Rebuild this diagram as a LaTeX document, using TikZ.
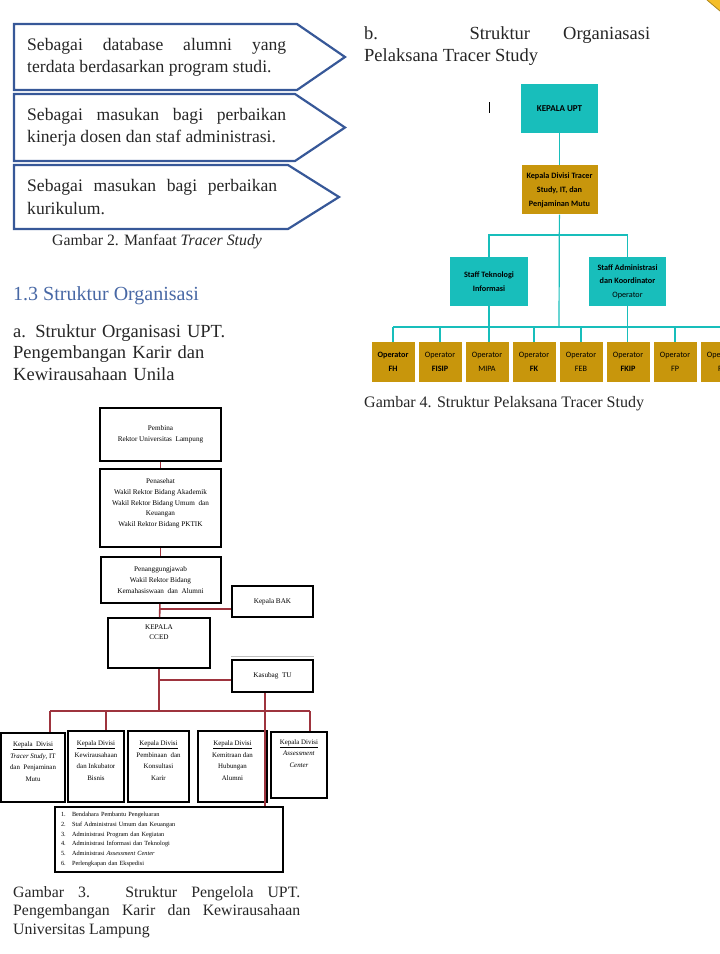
\documentclass[tikz,border=0pt]{standalone}
\usepackage{fontspec}
\setmainfont{Liberation Serif}
\newfontfamily\chartfont{Carlito}
\usepackage{xcolor}
\usepackage{tikz}
\definecolor{arrowblue}{RGB}{55, 88, 152}
\definecolor{headblue}{RGB}{72, 104, 165}
\definecolor{uptteal}{RGB}{24, 190, 187}
\definecolor{opgold}{RGB}{200, 150, 12}
\definecolor{linkred}{RGB}{158, 52, 62}
\definecolor{cornergold}{RGB}{245, 190, 40}
\usetikzlibrary{positioning, calc}
\hyphenpenalty=10000
\exhyphenpenalty=10000

\begin{document}
\begin{tikzpicture}[
    x=1pt, y=-1pt,
    benefit/.style={anchor=west, inner sep=0pt, align=justify, text=black!85,
                    font=\fontsize{17.6}{22.3}\selectfont},
    benefitshape/.style={draw=arrowblue, line width=2.2pt, line join=miter},
    heading/.style={anchor=base west, inner sep=0pt, align=left, text=black!85},
    caption/.style={anchor=base west, inner sep=0pt, text=black!85,
                    font=\fontsize{15.8}{18.5}\selectfont},
    pkbox/.style={rectangle, draw, line width=2pt, fill=white, inner sep=0pt,
                  align=center, font=\fontsize{7.2}{10.8}\selectfont},
    divbox/.style={pkbox, font=\fontsize{6.9}{11.6}\selectfont},
    pklink/.style={draw=linkred, line width=1.6pt},
    upt/.style={rectangle, fill=uptteal, inner sep=0pt, align=center,
                font=\chartfont\bfseries\fontsize{8.2}{13.5}\selectfont},
    kadivbox/.style={upt, fill=opgold, font=\chartfont\bfseries\fontsize{8.2}{14}\selectfont},
    opbox/.style={rectangle, fill=opgold, minimum width=43pt, minimum height=40pt,
                  inner sep=0pt, align=center,
                  font=\chartfont\fontsize{8.2}{14}\selectfont},
    uptlink/.style={draw=uptteal, line width=1.2pt}
]
    \useasboundingbox (0,0) rectangle (720,954);
    \clip (0,0) rectangle (720,954);

    % Manfaat tracer study
    \node[benefit, text width=259pt] (manfaat1) at (27,57)
        {Sebagai database alumni yang terdata berdasarkan program studi.};
    \draw[benefitshape] (14,24) -- (297,24) -- (345,57) -- (297,90) -- (14,90) -- cycle;
    \node[benefit, text width=259pt] (manfaat2) at (27,127.5)
        {Sebagai masukan bagi perbaikan kinerja dosen dan staf administrasi.};
    \draw[benefitshape] (14,94) -- (295,94) -- (345,127.5) -- (295,161) -- (14,161) -- cycle;
    \node[benefit, text width=250pt] (manfaat3) at (27,197)
        {Sebagai masukan bagi perbaikan kurikulum.};
    \draw[benefitshape] (14,165) -- (288,165) -- (339,197) -- (288,229) -- (14,229) -- cycle;
    \node[caption] (gambar2) at (52,245) {Gambar 2. Manfaat \textit{Tracer Study}};

    % Headings
    \node[heading, text=headblue, font=\fontsize{20}{24}\selectfont] (subbab) at (13,300)
        {1.3 Struktur Organisasi};
    \node[heading, text width=230pt, font=\fontsize{18.5}{21.5}\selectfont] (judula) at (13,337)
        {a. Struktur Organisasi UPT.\\Pengembangan Karir dan\\Kewirausahaan Unila};
    \node[heading, text width=286pt, align=justify, font=\fontsize{18.5}{22}\selectfont] (judulb) at (364,39)
        {b. Struktur Organiasasi\linebreak Pelaksana Tracer Study};

    % Struktur pengelola UPT
    \node[pkbox, minimum width=121pt, minimum height=53pt] (pembina) at (160.5,434.5)
        {Pembina\\Rektor Universitas\ \ Lampung};
    \node[pkbox, minimum width=121pt, minimum height=78pt, below=6pt of pembina] (penasehat)
        {Penasehat\\Wakil Rektor Bidang Akademik\\Wakil Rektor Bidang Umum\ \ dan\\Keuangan\\Wakil Rektor Bidang PKTIK\\\mbox{}};
    \node[pkbox, minimum width=120pt, minimum height=46pt, below=8pt of penasehat] (penanggung)
        {Penanggungjawab\\Wakil Rektor Bidang\\Kemahasiswaan\ \ dan\ \ Alumni};
    \node[pkbox, minimum width=81pt, minimum height=31pt] (kabak) at (272.5,601.5) {Kepala BAK};
    \node[pkbox, minimum width=102pt, minimum height=50pt] (kepalacced) at (159,643)
        {KEPALA\\CCED\\\mbox{}\\\mbox{}};
    \node[pkbox, minimum width=81pt, minimum height=32pt] (kasubag) at (272.5,676) {Kasubag\ \ TU};
    \draw[black!25, line width=1pt] ([yshift=3pt]kasubag.north west) -- ([yshift=3pt]kasubag.north east);

    \node[divbox, minimum width=64pt, minimum height=69pt] (divtracer) at (33,767.5)
        {\underline{Kepala\ \ Divisi}\\\textit{Tracer Study}, IT\\dan\ \ Penjaminan\\Mutu\\\mbox{}};
    \node[divbox, minimum width=56pt, minimum height=71pt] (divwirausaha) at (96,766.5)
        {\underline{Kepala Divisi}\\Kewirausahaan\\dan Inkubator\\Bisnis\\\mbox{}};
    \node[divbox, minimum width=61pt, minimum height=71pt] (divkarir) at (158.5,766.5)
        {\underline{Kepala Divisi}\\Pembinaan\ \ dan\\Konsultasi\\Karir\\\mbox{}};
    \node[divbox, minimum width=69pt, minimum height=71pt] (divmitra) at (232.5,766.5)
        {\underline{Kepala Divisi}\\Kemitraan dan\\Hubungan\\Alumni\\\mbox{}};
    \node[divbox, minimum width=56pt, minimum height=66pt] (divassess) at (299,765)
        {\underline{Kepala Divisi}\\\textit{Assessment}\\\textit{Center}\\\mbox{}\\\mbox{}};
    \node[pkbox, minimum width=228pt, minimum height=65pt, text width=216pt, align=left,
          font=\fontsize{6.3}{9.7}\selectfont] (tugas) at (169,839.5)
        {\makebox[11pt][l]{1.}Bendahara Pembantu Pengeluaran\\
         \makebox[11pt][l]{2.}Staf Administrasi Umum dan Keuangan\\
         \makebox[11pt][l]{3.}Administrasi Program dan Kegiatan\\
         \makebox[11pt][l]{4.}Administrasi Informasi dan Teknologi\\
         \makebox[11pt][l]{5.}Administrasi \textit{Assessment Center}\\
         \makebox[11pt][l]{6.}Perlengkapan dan Ekspedisi};

    \coordinate (bakjoin) at (159,609);
    \coordinate (tujoin) at (159,680);
    \coordinate (divbus) at (159,711);
    \coordinate (bustracer) at (50,711);
    \coordinate (buswirausaha) at (106,711);
    \coordinate (busassess) at (310,711);
    \coordinate (tudrop) at (265,676);
    \draw[pklink] (pembina) -- (penasehat);
    \draw[pklink] (penasehat) -- (penanggung);
    \draw[pklink] (penanggung) -- (kepalacced);
    \draw[pklink] (bakjoin) -- (bakjoin -| kabak.west);
    \draw[pklink] (kepalacced) -- (divbus);
    \draw[pklink] (tujoin) -- (tujoin -| kasubag.west);
    \draw[pklink] (bustracer) -- (busassess);
    \draw[pklink] (bustracer) -- (bustracer |- divtracer.north);
    \draw[pklink] (buswirausaha) -- (buswirausaha |- divwirausaha.north);
    \draw[pklink] (busassess) -- (busassess |- divassess.north);
    \draw[pklink] (tudrop |- kasubag.south) -- (tudrop |- tugas.north);

    \node[caption, text width=287pt, align=justify] (gambar3) at (13,897)
        {Gambar 3. Struktur Pengelola UPT.\linebreak Pengembangan Karir dan Kewirausahaan\linebreak Universitas Lampung};

    % Struktur pelaksana tracer study
    \draw[line width=0.7pt] (489,102) -- (489,113);
    \node[upt, minimum width=77pt, minimum height=49pt,
          font=\chartfont\bfseries\fontsize{9}{10}\selectfont] (kepalaupt) at (559.5,108.5) {KEPALA UPT};
    \node[kadivbox, minimum width=76pt, minimum height=49pt, below=32pt of kepalaupt] (kadiv)
        {Kepala Divisi Tracer\\Study, IT, dan\\Penjaminan Mutu};
    \node[upt, minimum width=78pt, minimum height=49pt] (stafti) at (489,281.5)
        {Staff Teknologi\\Informasi};
    \node[upt, minimum width=77pt, minimum height=49pt] (stafadm) at (627.5,281.5)
        {Staff Administrasi\\dan Koordinator\\\mdseries Operator};

    \node[opbox, font=\chartfont\bfseries\fontsize{8.2}{14}\selectfont] (op1) at (393,362) {Operator\\FH};
    \node[opbox, right=3.6pt of op1] (op2) {Operator\\\textbf{FISIP}};
    \node[opbox, right=3.6pt of op2] (op3) {Operator\\MIPA};
    \node[opbox, right=3.6pt of op3] (op4) {Operator\\\textbf{FK}};
    \node[opbox, right=3.6pt of op4] (op5) {Operator\\FEB};
    \node[opbox, right=3.6pt of op5] (op6) {Operator\\\textbf{FKIP}};
    \node[opbox, right=3.6pt of op6] (op7) {Operator\\FP};
    \node[opbox, right=3.6pt of op7] (op8) {Operator\\FT};

    \coordinate (staffbus) at (559,235);
    \coordinate (opbus) at (559,327);
    \draw[uptlink] (kepalaupt) -- (kadiv);
    \draw[uptlink] (kadiv) -- (opbus);
    \draw[uptlink] (stafti) |- (staffbus) -| (stafadm);
    \draw[uptlink] (stafti) -- (stafti |- op3.north);
    \draw[uptlink] (stafadm) -- (stafadm |- op6.north);
    \draw[uptlink] (op1.north |- opbus) -- (op8.north east |- opbus);
    \foreach \i in {1,2,4,5,7,8}
        \draw[uptlink] (op\i) -- (op\i |- opbus);
    \node[caption, font=\fontsize{16}{19}\selectfont] (gambar4) at (364,407)
        {Gambar 4. Struktur Pelaksana Tracer Study};

    % page corner
    \fill[cornergold] (707,0) -- (720,0) -- (720,11) -- cycle;
    \draw[cornergold!70!black, line width=0.8pt] (707,0) -- (720,11);
\end{tikzpicture}
\end{document}
